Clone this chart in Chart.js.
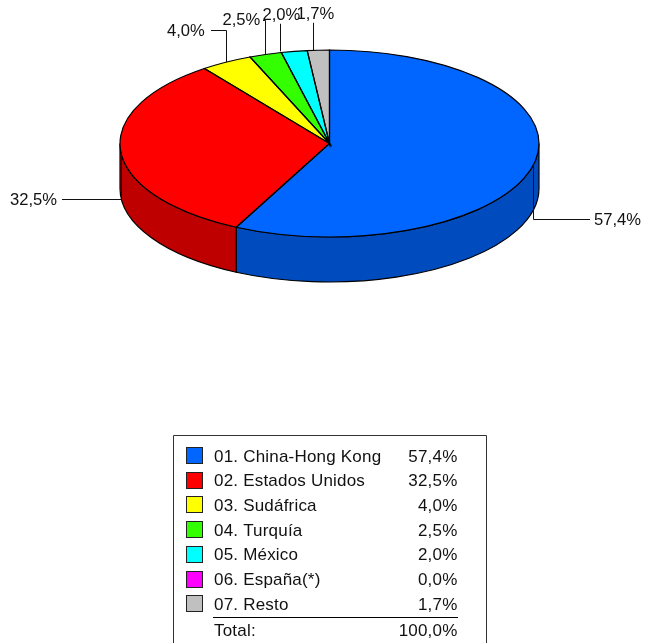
<!DOCTYPE html>
<html>
<head>
<meta charset="utf-8">
<style>
    html, body { margin: 0; padding: 0; background: #fff; overflow: hidden; }
    canvas { display: block; }
</style>
<script src="https://cdn.jsdelivr.net/npm/chart.js@4/dist/chart.umd.min.js"></script>
</head>
<body>
<canvas id="pieChart" width="658" height="643"></canvas>
<script>
const categories = ['01. China-Hong Kong', '02. Estados Unidos', '03. Sudáfrica', '04. Turquía', '05. México', '06. España(*)', '07. Resto'];
const shares = [57.4, 32.5, 4.0, 2.5, 2.0, 0.0, 1.7];
const totalLabel = 'Total:';
const totalValue = 100.0;
const topColors = ['#0066FF', '#FF0000', '#FFFF00', '#33FF00', '#00FFFF', '#FF00FF', '#C0C0C0'];
const sideColors = ['#004CBF', '#BF0000', '#BFBF00', '#26BF00', '#00BFBF', '#BF00BF', '#909090'];

const formatPct = v => v.toFixed(1).replace('.', ',') + '%';
const LABEL_FONT = '16.6px "Liberation Sans", Arial, sans-serif';
const LEGEND_FONT = '17px "Liberation Sans", Arial, sans-serif';
const TILT = 93.5 / 209.5;
const DEPTH = 45;
const CENTER_Y = 143.5;

// leader line for each slice: elbow height, where it stops, where the text sits
const leaders = {
    0: { elbowY: 219.5, endX: 590, textX: 594, textY: 220 },
    1: { elbowY: 199.5, endX: 62, textX: 10, textY: 200 },
    2: { elbowY: 30.5, endX: 211, textX: 167, textY: 31 },
    3: { elbowY: 20.5, endX: 263, textX: 222.5, textY: 20.5 },
    4: { elbowY: 24, endX: 281, textX: 262.5, textY: 15.5, dx: -14 },
    6: { elbowY: 23, endX: 314, textX: 296.5, textY: 14.5, dx: -5.5 }
};

const pie3d = {
    id: 'pie3d',
    beforeDatasetsDraw(chart) {
        const { ctx } = chart;
        const arcs = chart.getDatasetMeta(0).data;
        const cx = arcs[0].x, rx = arcs[0].outerRadius, ry = rx * TILT;
        ctx.save();
        ctx.lineWidth = 1.2;
        ctx.strokeStyle = '#000';
        // the rim: only what faces the viewer
        arcs.forEach((arc, i) => {
            const a = Math.max(arc.startAngle, 0), b = Math.min(arc.endAngle, Math.PI);
            if (b <= a || shares[i] === 0) return;
            ctx.beginPath();
            ctx.ellipse(cx, CENTER_Y, rx, ry, 0, a, b);
            ctx.ellipse(cx, CENTER_Y + DEPTH, rx, ry, 0, b, a, true);
            ctx.closePath();
            ctx.fillStyle = sideColors[i];
            ctx.fill();
            ctx.stroke();
        });
        ctx.restore();
        // squash the library's own pie into the tilted top
        ctx.save();
        ctx.translate(0, CENTER_Y);
        ctx.scale(1, TILT);
        ctx.translate(0, -arcs[0].y);
    },
    afterDatasetsDraw(chart) {
        const { ctx } = chart;
        ctx.restore();
        const arcs = chart.getDatasetMeta(0).data;
        const cx = arcs[0].x, rx = arcs[0].outerRadius, ry = rx * TILT;
        ctx.save();
        ctx.lineWidth = 1.2;
        ctx.strokeStyle = '#000';
        arcs.forEach((arc, i) => {
            if (shares[i] === 0) return;
            ctx.beginPath();
            ctx.moveTo(cx, CENTER_Y);
            ctx.ellipse(cx, CENTER_Y, rx, ry, 0, arc.startAngle, arc.endAngle);
            ctx.closePath();
            ctx.stroke();
        });

        // leaders and percentage labels
        ctx.lineWidth = 1;
        ctx.font = LABEL_FONT;
        ctx.textBaseline = 'middle';
        ctx.textAlign = 'left';
        ctx.fillStyle = '#111';
        ctx.strokeStyle = '#111';
        arcs.forEach((arc, i) => {
            const l = leaders[i];
            if (!l) return;
            const mid = (arc.startAngle + arc.endAngle) / 2;
            const x = Math.round(cx + rx * Math.cos(mid) + (l.dx || 0)) + 0.5;
            const y = CENTER_Y + ry * Math.sin(mid);
            ctx.beginPath();
            ctx.moveTo(x, y);
            ctx.lineTo(x, l.elbowY);
            ctx.lineTo(l.endX, l.elbowY);
            ctx.stroke();
            ctx.fillText(formatPct(shares[i]), l.textX, l.textY);
        });

        // legend box, open at the bottom where the picture ends
        ctx.strokeStyle = '#333';
        ctx.beginPath();
        ctx.moveTo(173.5, 643);
        ctx.lineTo(173.5, 435.5);
        ctx.lineTo(486.5, 435.5);
        ctx.lineTo(486.5, 643);
        ctx.stroke();

        ctx.font = LEGEND_FONT;
        ctx.letterSpacing = '0.2px';
        const rowY = i => 457 + i * 24.7;
        categories.forEach((name, i) => {
            const y = rowY(i);
            ctx.fillStyle = topColors[i];
            ctx.fillRect(186.5, Math.round(y) - 9.5, 16, 16);
            ctx.strokeStyle = '#222';
            ctx.strokeRect(186.5, Math.round(y) - 9.5, 16, 16);
            ctx.fillStyle = '#111';
            ctx.textAlign = 'left';
            ctx.fillText(name, 214, y);
            ctx.textAlign = 'right';
            ctx.fillText(formatPct(shares[i]), 457.5, y);
        });
        ctx.strokeStyle = '#000';
        ctx.beginPath();
        ctx.moveTo(213, 617.5);
        ctx.lineTo(458, 617.5);
        ctx.stroke();
        ctx.textAlign = 'left';
        ctx.fillText(totalLabel, 214, 631);
        ctx.textAlign = 'right';
        ctx.fillText(formatPct(totalValue), 457.5, 631);
        ctx.restore();
    }
};

new Chart(document.getElementById('pieChart'), {
    type: 'pie',
    data: {
        labels: categories,
        datasets: [{
            data: shares,
            backgroundColor: topColors,
            borderWidth: 0,
            clip: false
        }]
    },
    options: {
        responsive: false,
        animation: false,
        layout: { padding: { left: 120, right: 119, top: 0, bottom: 224 } },
        plugins: { legend: { display: false }, tooltip: { enabled: false } }
    },
    plugins: [pie3d]
});
</script>
</body>
</html>
